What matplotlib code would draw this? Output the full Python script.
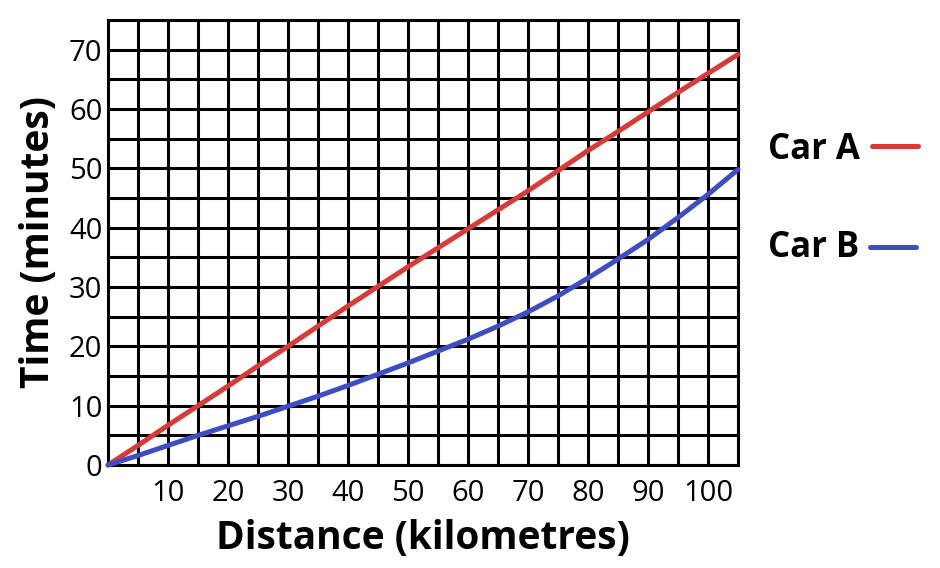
import numpy as np
import matplotlib.pyplot as plt
from matplotlib.lines import Line2D

plt.rcParams['font.family'] = ['Open Sans', 'DejaVu Sans']

distance = [0, 5, 10, 15, 20, 25, 30, 35, 40, 45, 50, 55, 60, 65, 70, 75, 80, 85, 90, 95, 100, 105]
car_a = [0, 3.3, 6.7, 10.0, 13.3, 16.7, 20.0, 23.4, 26.8, 30.1, 33.4, 36.6, 39.8, 43.0, 46.2, 49.6, 53.0, 56.2, 59.5, 62.8, 66.0, 69.2]
car_b = [0, 1.6, 3.3, 5.0, 6.6, 8.2, 9.9, 11.6, 13.4, 15.3, 17.2, 19.2, 21.2, 23.4, 25.8, 28.5, 31.5, 34.7, 38.0, 41.7, 45.6, 49.8]

x_ticks = [10, 20, 30, 40, 50, 60, 70, 80, 90, 100]
y_ticks = [0, 10, 20, 30, 40, 50, 60, 70]

red = "#d93a35"
blue = "#3f4dc4"

fig = plt.figure(figsize=(9.4, 5.68), dpi=100)
ax = fig.add_axes([0.1149, 0.1813, 0.6702, 0.7835])

ax.set_xlim(0, 105)
ax.set_ylim(0, 75)
ax.set_xticks(np.arange(0, 106, 5), minor=True)
ax.set_yticks(np.arange(0, 76, 5), minor=True)
ax.set_xticks(x_ticks)
ax.set_yticks(y_ticks)
ax.grid(which='both', color='black', linewidth=2.2)
ax.tick_params(which='both', length=0, labelsize=21)
ax.tick_params(axis='x', pad=10)
ax.tick_params(axis='y', pad=4)
for s in ax.spines.values():
    s.set_color('black')
    s.set_linewidth(2.2)
ax.set_axisbelow(True)

ax.plot(distance, car_a, color=red, linewidth=3.6, solid_capstyle='round', clip_on=False, zorder=5)
ax.plot(distance, car_b, color=blue, linewidth=3.6, solid_capstyle='round', clip_on=False, zorder=5)

ax.set_xlabel("Distance (kilometres)", fontsize=28, fontweight='bold', labelpad=8)
ax.set_ylabel("Time (minutes)", fontsize=28, fontweight='bold', labelpad=8)

# legend outside the plot
fig.text(768 / 940, 1 - 150 / 568, "Car A", fontsize=25, fontweight='bold', va='center', ha='left')
fig.text(768 / 940, 1 - 248 / 568, "Car B", fontsize=25, fontweight='bold', va='center', ha='left')
fig.add_artist(Line2D([872 / 940, 918 / 940], [1 - 146 / 568] * 2, color=red, linewidth=3.6, solid_capstyle='round'))
fig.add_artist(Line2D([870 / 940, 916 / 940], [1 - 247 / 568] * 2, color=blue, linewidth=3.6, solid_capstyle='round'))

plt.savefig("out.png", dpi=100)
